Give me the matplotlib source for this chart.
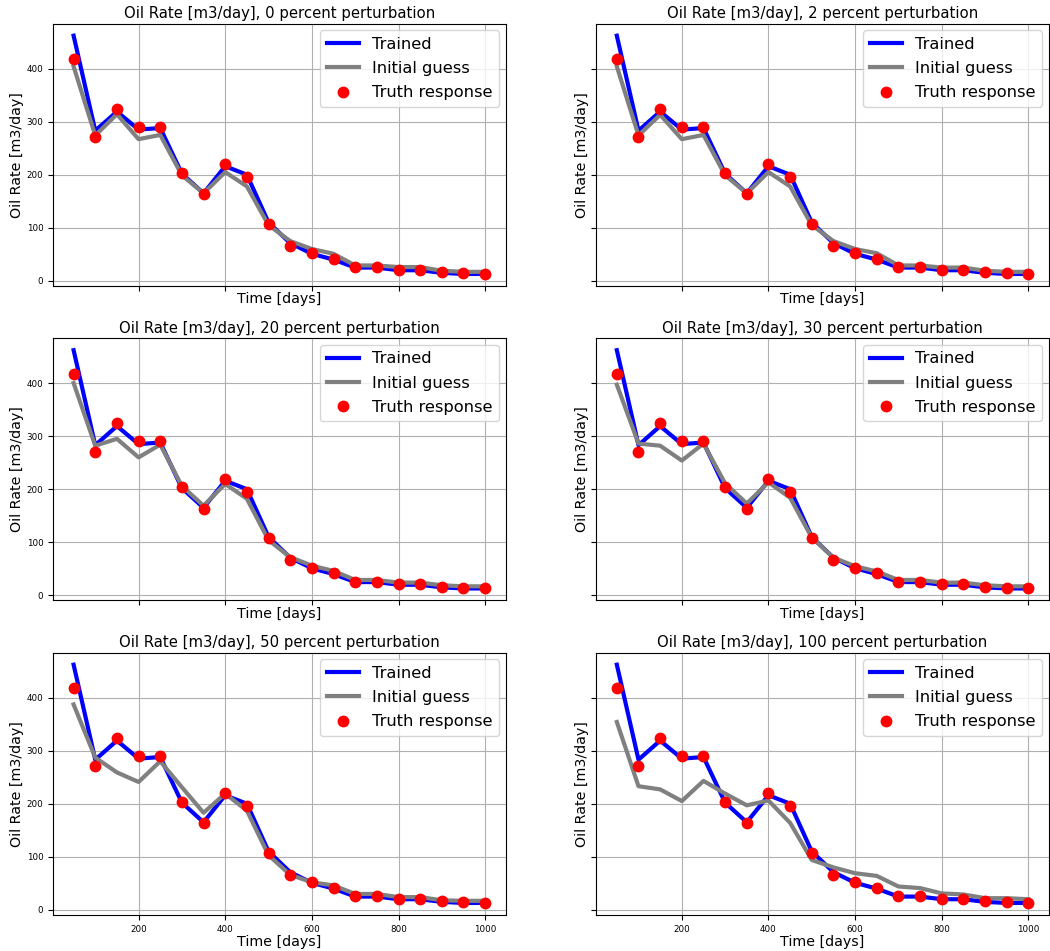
import matplotlib
matplotlib.use("Agg")
import matplotlib.pyplot as plt

# time axis [days]
time = [50, 100, 150, 200, 250, 300, 350, 400, 450, 500,
        550, 600, 650, 700, 750, 800, 850, 900, 950, 1000]

# truth response (same in every panel)
truth = [418, 271, 324, 290, 290, 204, 163, 220, 195, 108,
         66, 52, 42, 26, 26, 21, 21, 16, 14, 13]

# trained model response
trained = [462, 283, 319, 285, 288, 202, 165, 216, 200, 110,
           71, 51, 40, 25, 25, 20, 20, 15, 13, 13]

# initial guess for each perturbation level
perturbations = [0, 2, 20, 30, 50, 100]
guess_0 = [404, 274, 314, 267, 275, 199, 165, 205, 178, 105,
           75, 60, 51, 29, 29, 26, 26, 19, 17, 17]
guess_2 = [404, 274, 313, 267, 275, 199, 165, 205, 178, 105,
           75, 60, 52, 29, 29, 25, 25, 19, 17, 17]
guess_20 = [400, 282, 295, 260, 284, 206, 169, 210, 182, 104,
            72, 56, 46, 29, 29, 24, 24, 19, 17, 17]
guess_30 = [397, 286, 282, 254, 286, 211, 173, 213, 184, 109,
            71, 55, 45, 29, 29, 24, 24, 19, 17, 17]
guess_50 = [387, 287, 259, 241, 280, 231, 183, 219, 187, 103,
            66, 52, 46, 30, 30, 24, 24, 18, 17, 17]
guess_100 = [354, 233, 227, 205, 243, 219, 197, 206, 164, 94,
             80, 69, 64, 44, 41, 31, 29, 22, 22, 20]
guesses = [guess_0, guess_2, guess_20, guess_30, guess_50, guess_100]

fig, axes = plt.subplots(3, 2, figsize=(10.5, 9.51), dpi=100,
                         sharex=True, sharey=True)
plt.subplots_adjust(left=0.0505, right=0.999, bottom=0.038, top=0.975,
                    wspace=0.2, hspace=0.2)

for ax, pert, guess in zip(axes.flat, perturbations, guesses):
    ax.plot(time, trained, color='blue', lw=3, label='Trained')
    ax.plot(time, guess, color='gray', lw=3, label='Initial guess')
    ax.plot(time, truth, 'o', color='red', ms=7.5, label='Truth response')
    ax.set_title('Oil Rate [m3/day], %d percent perturbation' % pert,
                 fontsize=10.7, pad=4)
    ax.set_xlabel('Time [days]', fontsize=10.3, labelpad=1)
    ax.set_ylabel('Oil Rate [m3/day]', fontsize=10.3, labelpad=1.5)
    ax.tick_params(labelsize=6.3)
    ax.grid(True)
    ax.legend(loc='upper right', fontsize=11.7, labelspacing=0.57,
              borderaxespad=0.4)

plt.savefig('out.png', dpi=100)
